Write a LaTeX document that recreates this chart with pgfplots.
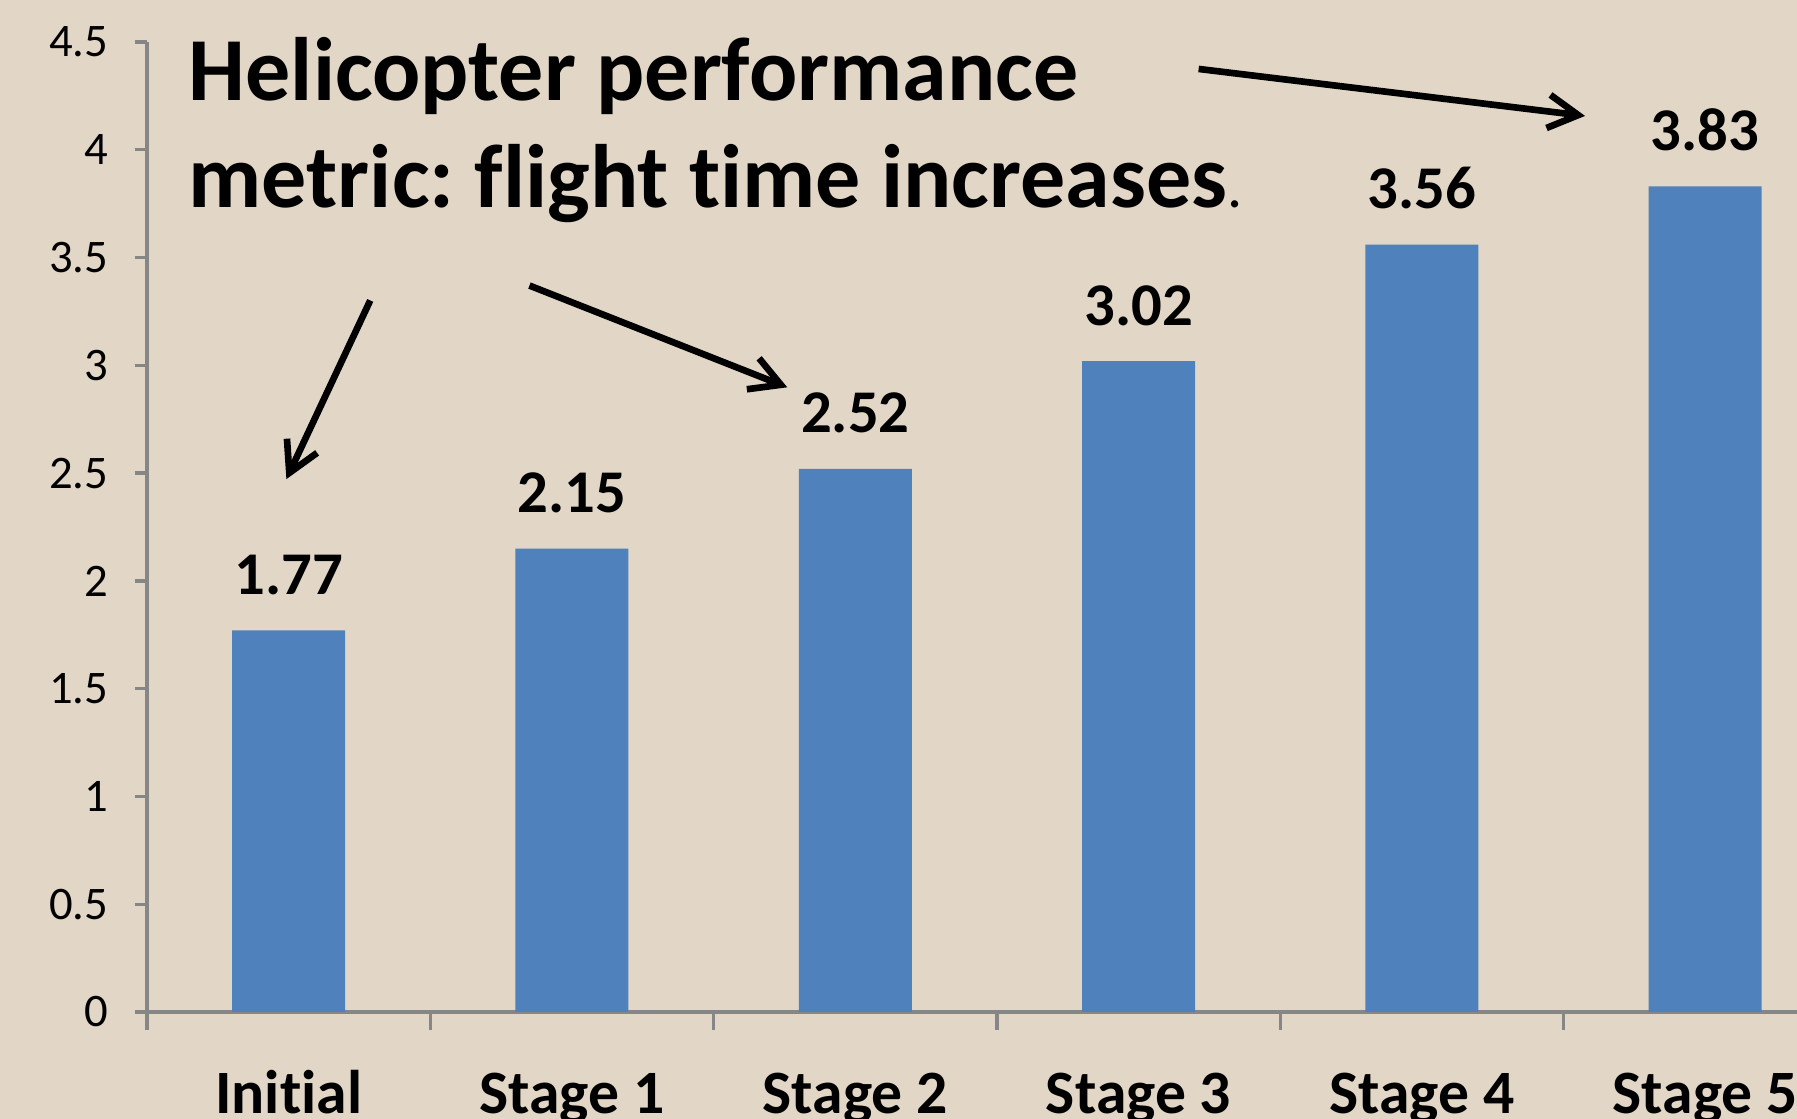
\documentclass[border=0pt]{standalone}
\usepackage{pgfplots}
\pgfplotsset{compat=1.18}
\usepackage{fontspec}
\setmainfont{Carlito}[Ligatures=NoCommon]
\usetikzlibrary{arrows.meta,backgrounds}
\definecolor{bgtan}{RGB}{226,215,198}
\definecolor{barblue}{RGB}{79,129,189}
\definecolor{axgray}{RGB}{134,134,134}
\frenchspacing

\begin{document}
\begin{tikzpicture}
\begin{axis}[
    name=ax,
    scale only axis,
    width=495pt, height=291pt,
    xmin=-0.5, xmax=5.324,
    ymin=0, ymax=4.5,
    axis x line*=bottom,
    axis y line*=left,
    axis line style={axgray, line width=1pt},
    ytick={0,0.5,...,4.5},
    xtick={0,...,5},
    xticklabels={Initial,Stage 1,Stage 2,Stage 3,Stage 4,Stage 5},
    minor xtick={-0.5,0.5,1.5,2.5,3.5,4.5},
    tick align=outside,
    major tick length=3.6pt,
    minor tick length=5.4pt,
    major x tick style={draw=none},
    minor x tick style={axgray, line width=1pt},
    major y tick style={axgray, line width=1pt},
    /pgf/number format/assume math mode=true,
    yticklabel style={font=\fontsize{14}{16}\selectfont, xshift=-4.5pt},
    xticklabel style={font=\bfseries\fontsize{18.5}{20}\selectfont, anchor=base, yshift=-27pt},
    nodes near coords={\pgfmathprintnumber[fixed,fixed zerofill,precision=2,assume math mode=true]{\pgfplotspointmeta}},
    every node near coord/.append style={font=\bfseries\fontsize{18.2}{20}\selectfont, anchor=base, yshift=10.8pt, text=black},
    clip=false,
]
\addplot[ybar, bar width=33.9pt, fill=barblue, draw=none]
    coordinates {(0,1.77) (1,2.15) (2,2.52) (3,3.02) (4,3.56) (5,3.83)};

\node[anchor=base west, font=\bfseries\fontsize{27}{32}\selectfont] at (axis cs:-0.394,4.23) {Helicopter performance};
\node[anchor=base west, font=\bfseries\fontsize{27}{32}\selectfont] at (axis cs:-0.394,3.73) {metric: flight time increases{\mdseries\fontsize{18}{20}\selectfont.}};

\draw[line width=2pt, -{Straight Barb[length=9pt,width=10pt]}] (axis cs:0.288,3.301) -- (axis cs:-0.008,2.472);
\draw[line width=2pt, -{Straight Barb[length=9pt,width=10pt]}] (axis cs:0.850,3.370) -- (axis cs:1.760,2.898);
\draw[line width=2pt, -{Straight Barb[length=9pt,width=10pt]}] (axis cs:3.212,4.375) -- (axis cs:4.576,4.157);
\end{axis}
\pgfresetboundingbox
\path[use as bounding box] ([shift={(-44.1pt,-32.1pt)}]ax.south west) rectangle ([shift={(0pt,12.6pt)}]ax.north east);
\begin{pgfonlayer}{background}
\fill[bgtan] ([shift={(-44.1pt,-32.1pt)}]ax.south west) rectangle ([shift={(0pt,12.6pt)}]ax.north east);
\end{pgfonlayer}
\end{tikzpicture}
\end{document}
